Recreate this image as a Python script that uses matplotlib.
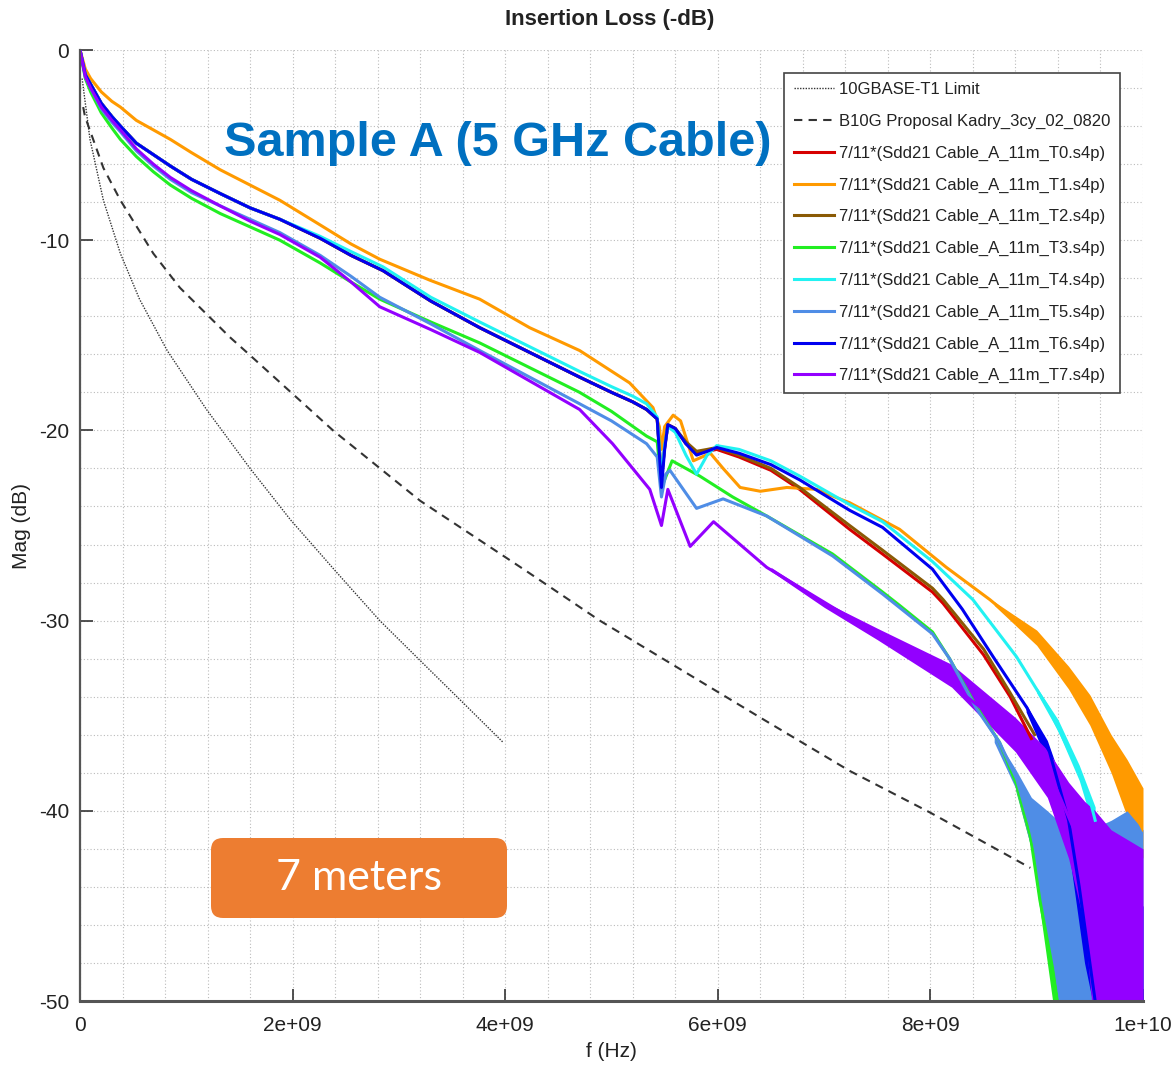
import matplotlib
matplotlib.use('Agg')
from matplotlib import pyplot as plt
from matplotlib import font_manager
from matplotlib.patches import FancyBboxPatch
from matplotlib.ticker import MultipleLocator
import numpy as np

plt.rcParams['axes.unicode_minus'] = False
installed = {f.name for f in font_manager.fontManager.ttflist}
NARROW = [n for n in ['Liberation Sans Narrow', 'Liberation Sans'] if n in installed] + ['DejaVu Sans']
IS_NARROW = NARROW[0] == 'Liberation Sans Narrow'

# Values: frequency in GHz, magnitude in dB
limit_f = [0.02, 0.094, 0.22, 0.38, 0.56, 0.82, 1.19, 1.60, 1.98, 2.42, 2.82, 3.2, 3.6, 3.98]
limit_db = [-1.5, -4.7, -7.9, -10.7, -13.1, -15.8, -18.9, -22.0, -24.7, -27.5, -30.0, -32.1, -34.3, -36.4]

prop_f = [0.03, 0.047, 0.22, 0.38, 0.69, 0.94, 1.41, 1.57, 2.38, 3.2, 4.2, 4.89, 6.4, 7.24, 8.0, 8.94]
prop_db = [-3.0, -3.5, -6.2, -7.9, -10.7, -12.5, -15.1, -15.9, -20.0, -23.7, -27.4, -30.0, -35.1, -37.9, -40.1, -43.0]

# T0 (red)
t0_f = [0, 0.05, 0.1, 0.2, 0.3, 0.38, 0.53, 0.69, 0.85, 1.05, 1.32, 1.6, 1.88, 2.26, 2.55, 2.85, 3.3, 3.76,
        4.23, 4.70, 5.0, 5.2, 5.33, 5.43, 5.47, 5.50, 5.53, 5.60, 5.70, 5.80, 5.90, 5.99, 6.2, 6.5, 6.77,
        7.24, 7.55, 8.02, 8.12, 8.5, 8.75, 8.95]
t0_db = [0, -1.3, -1.8, -2.8, -3.5, -4.0, -4.9, -5.5, -6.1, -6.8, -7.55, -8.3, -8.9, -9.9, -10.8, -11.6, -13.2, -14.6,
         -15.9, -17.2, -18.0, -18.5, -18.9, -19.4, -22.5, -20.9, -19.7, -19.9, -20.7, -21.2, -21.1, -21.0, -21.4, -22.1, -23.1,
         -25.2, -26.5, -28.5, -29.1, -31.8, -34.0, -36.2]

# T1 (orange)
t1_f = [0, 0.05, 0.1, 0.2, 0.3, 0.38, 0.53, 0.69, 0.85, 1.05, 1.32, 1.6, 1.88, 2.26, 2.55, 2.82, 3.29, 3.76,
        4.23, 4.70, 5.17, 5.39, 5.45, 5.47, 5.50, 5.58, 5.65, 5.77, 5.85, 5.93, 6.05, 6.21, 6.40, 6.65, 6.93,
        7.1, 7.24, 7.71, 8.15, 8.56, 9.12, 9.5, 9.76, 9.94, 10.0]
t1_db = [0, -1.0, -1.5, -2.2, -2.7, -3.0, -3.7, -4.2, -4.7, -5.4, -6.3, -7.1, -7.9, -9.2, -10.2, -11.0, -12.1, -13.1,
         -14.6, -15.8, -17.5, -18.8, -19.8, -21.0, -19.8, -19.2, -19.5, -21.6, -21.4, -21.2, -22.0, -23.0, -23.2, -23.0, -23.1,
         -23.5, -23.8, -25.2, -27.2, -28.9, -31.5, -34.7, -37.7, -40.3, -41.0]
t1_tail_f = [8.6, 9.0, 9.3, 9.5, 9.7, 9.85, 10.0]
t1_tail_hi = [-29.0, -30.5, -32.4, -33.9, -36.0, -37.3, -38.8]
t1_tail_lo = [-29.2, -31.3, -33.6, -35.5, -38.0, -40.3, -42.5]

# T2 (brown)
t2_f = [0, 0.05, 0.1, 0.2, 0.3, 0.38, 0.53, 0.69, 0.85, 1.05, 1.32, 1.6, 1.88, 2.26, 2.55, 2.85, 3.3, 3.76,
        4.23, 4.70, 5.0, 5.2, 5.33, 5.43, 5.47, 5.50, 5.53, 5.60, 5.70, 5.80, 5.90, 5.99, 6.2, 6.5, 6.77,
        7.24, 7.55, 8.02, 8.12, 8.5, 8.75, 8.98]
t2_db = [0, -1.3, -1.8, -2.8, -3.5, -4.0, -4.9, -5.5, -6.1, -6.8, -7.55, -8.3, -8.9, -9.9, -10.8, -11.6, -13.2, -14.6,
         -15.9, -17.2, -18.0, -18.5, -18.9, -19.4, -22.5, -20.9, -19.7, -19.9, -20.6, -21.1, -21.0, -20.9, -21.3, -22.0, -23.0,
         -25.0, -26.3, -28.3, -28.9, -31.5, -33.8, -36.0]

# T3 (green)
t3_f = [0, 0.05, 0.1, 0.2, 0.3, 0.38, 0.53, 0.69, 0.85, 1.05, 1.32, 1.6, 1.88, 2.26, 2.55, 2.82, 3.3, 3.76,
        4.23, 4.70, 5.0, 5.33, 5.43, 5.47, 5.50, 5.57, 5.83, 6.14, 6.30, 6.46, 7.08, 7.55, 7.71, 8.02, 8.18,
        8.43, 8.65, 8.81, 8.94, 9.03, 9.15, 9.25]
t3_db = [0, -1.5, -2.2, -3.3, -4.1, -4.7, -5.6, -6.4, -7.1, -7.8, -8.6, -9.3, -10.0, -11.2, -12.2, -13.1, -14.3, -15.4,
         -16.7, -18.0, -19.0, -20.3, -20.6, -23.0, -22.6, -21.6, -22.4, -23.5, -24.0, -24.5, -26.5, -28.5, -29.2, -30.6, -32.0,
         -34.5, -36.4, -38.6, -41.3, -44.7, -48.3, -52.0]
t3_tail_f = [8.8, 8.95, 9.05, 9.15, 9.25]
t3_tail_hi = [-38.3, -40.8, -43.5, -47.0, -50.0]
t3_tail_lo = [-38.9, -42.0, -46.0, -50.0, -52.0]

# T4 (cyan)
t4_f = [0, 0.05, 0.1, 0.2, 0.3, 0.38, 0.53, 0.69, 0.85, 1.05, 1.32, 1.6, 1.88, 2.26, 2.55, 2.85, 3.3, 3.76,
        4.23, 4.70, 5.0, 5.2, 5.33, 5.43, 5.47, 5.50, 5.53, 5.60, 5.70, 5.80, 5.90, 5.99, 6.2, 6.5, 6.77,
        7.24, 7.55, 8.02, 8.4, 8.81, 9.12, 9.38, 9.5, 9.55]
t4_db = [0, -1.3, -1.8, -2.8, -3.5, -4.0, -4.9, -5.5, -6.1, -6.8, -7.55, -8.3, -8.9, -9.8, -10.6, -11.4, -13.0, -14.3,
         -15.6, -16.9, -17.7, -18.2, -18.6, -19.3, -22.5, -20.8, -19.8, -20.1, -21.3, -22.3, -21.3, -20.8, -21.0, -21.6, -22.4,
         -23.9, -24.8, -26.9, -28.9, -31.9, -34.7, -37.7, -39.4, -40.5]
t4_tail_f = [9.0, 9.2, 9.4, 9.55]
t4_tail_hi = [-33.5, -35.2, -37.6, -39.8]
t4_tail_lo = [-33.8, -35.8, -38.4, -41.2]

# T5 (cornflower blue)
t5_f = [0, 0.05, 0.1, 0.2, 0.3, 0.38, 0.53, 0.69, 0.85, 1.05, 1.32, 1.6, 1.88, 2.26, 2.55, 2.82, 3.3, 3.76,
        4.23, 4.70, 5.0, 5.33, 5.43, 5.47, 5.51, 5.55, 5.80, 6.05, 6.46, 7.08, 7.55, 8.02, 8.18, 8.43, 8.65,
        8.81, 8.94, 9.05, 9.15, 9.25]
t5_db = [0, -1.4, -2.0, -3.1, -3.8, -4.3, -5.3, -6.1, -6.8, -7.5, -8.2, -8.9, -9.6, -10.8, -11.9, -13.0, -14.4, -15.8,
         -17.2, -18.6, -19.5, -20.7, -21.4, -23.5, -22.3, -22.1, -24.1, -23.6, -24.5, -26.6, -28.6, -30.7, -32.0, -34.6, -36.4,
         -38.3, -40.8, -43.5, -47.0, -51.0]
t5_tail_f = [8.6, 8.8, 8.95, 9.1, 9.2, 9.5, 9.7, 9.85, 10.0]
t5_tail_hi = [-36.0, -37.8, -39.3, -40.0, -40.5, -41.0, -40.5, -40.0, -41.0]
t5_tail_lo = [-36.4, -38.8, -42.0, -47.0, -50.5, -52.0, -52.0, -52.0, -52.0]

# T6 (blue)
t6_f = [0, 0.05, 0.1, 0.2, 0.3, 0.38, 0.53, 0.69, 0.85, 1.05, 1.32, 1.6, 1.88, 2.26, 2.55, 2.85, 3.3, 3.76,
        4.23, 4.70, 5.0, 5.2, 5.33, 5.43, 5.47, 5.50, 5.53, 5.60, 5.70, 5.80, 5.90, 5.99, 6.2, 6.5, 6.77,
        7.24, 7.55, 8.02, 8.3, 8.59, 8.91, 9.12, 9.3, 9.4, 9.5, 9.6, 10.0]
t6_db = [0, -1.3, -1.8, -2.8, -3.5, -4.0, -4.9, -5.5, -6.1, -6.8, -7.55, -8.3, -8.9, -9.9, -10.8, -11.6, -13.2, -14.6,
         -15.9, -17.2, -18.0, -18.5, -18.9, -19.4, -23.0, -21.0, -19.7, -19.9, -20.7, -21.3, -21.1, -20.9, -21.2, -21.8, -22.6,
         -24.2, -25.1, -27.3, -29.4, -31.9, -34.6, -36.9, -40.5, -44.0, -48.0, -52.0, -52.0]
t6_tail_f = [8.9, 9.1, 9.3, 9.45, 9.6, 9.8, 10.0]
t6_tail_hi = [-34.4, -36.3, -39.5, -42.0, -44.0, -45.0, -45.0]
t6_tail_lo = [-34.8, -37.4, -42.0, -48.0, -52.0, -52.0, -52.0]

# T7 (purple)
t7_f = [0, 0.05, 0.1, 0.2, 0.3, 0.38, 0.53, 0.69, 0.85, 1.05, 1.32, 1.6, 1.88, 2.26, 2.55, 2.82, 3.3, 3.76,
        4.23, 4.70, 5.01, 5.36, 5.47, 5.53, 5.74, 5.96, 6.46, 7.08, 7.71, 8.18, 8.34, 8.81, 9.12, 9.43,
        9.6, 9.8, 10.0]
t7_db = [0, -1.4, -2.0, -3.0, -3.7, -4.2, -5.2, -6.0, -6.7, -7.4, -8.2, -9.0, -9.7, -10.9, -12.2, -13.5, -14.7, -15.9,
         -17.4, -18.9, -20.7, -23.1, -25.0, -23.1, -26.1, -24.8, -27.2, -29.3, -31.4, -32.9, -34.0, -36.0, -38.0, -42.0,
         -45.0, -46.0, -46.5]
t7_tail_f = [6.5, 7.0, 7.5, 8.2, 8.8, 9.1, 9.3, 9.45, 9.55, 9.7, 9.85, 10.0]
t7_tail_hi = [-27.2, -29.0, -30.4, -32.3, -35.1, -36.8, -38.5, -39.5, -40.0, -41.0, -41.5, -42.0]
t7_tail_lo = [-27.4, -29.3, -31.0, -33.5, -36.9, -39.3, -42.5, -46.0, -52.0, -52.0, -52.0, -52.0]

labels = ['7/11*(Sdd21 Cable_A_11m_T%d.s4p)' % i for i in range(8)]
colors = ['#d60000', '#ff9a00', '#8a5a05', '#22ee22', '#22f2f2', '#4f8de6', '#0000f0', '#9300ff']
traces = [(t0_f, t0_db, None),
          (t1_f, t1_db, (t1_tail_f, t1_tail_lo, t1_tail_hi)),
          (t2_f, t2_db, None),
          (t3_f, t3_db, (t3_tail_f, t3_tail_lo, t3_tail_hi)),
          (t4_f, t4_db, (t4_tail_f, t4_tail_lo, t4_tail_hi)),
          (t5_f, t5_db, (t5_tail_f, t5_tail_lo, t5_tail_hi)),
          (t6_f, t6_db, (t6_tail_f, t6_tail_lo, t6_tail_hi)),
          (t7_f, t7_db, (t7_tail_f, t7_tail_lo, t7_tail_hi))]

xticks = [0, 2e9, 4e9, 6e9, 8e9, 1e10]
xtick_labels = ['0', '2e+09', '4e+09', '6e+09', '8e+09', '1e+10']
yticks = [0, -10, -20, -30, -40, -50]

# font sizes: the reference uses a condensed face
tick_fs = 17 if IS_NARROW else 15
leg_fs = 13 if IS_NARROW else 12
title_fs = 18 if IS_NARROW else 16

fig = plt.figure(figsize=(11.71, 10.71), dpi=100)
ax = fig.add_axes([80 / 1171, 1 - 1001 / 1071, 1063 / 1171, 951 / 1071])

ax.plot(np.array(limit_f) * 1e9, limit_db, color='#333333', lw=1.0, ls=(0, (1, 1)),
        label='10GBASE-T1 Limit')
ax.plot(np.array(prop_f) * 1e9, prop_db, color='#333333', lw=1.5, ls=(0, (4, 3)),
        label='B10G Proposal Kadry_3cy_02_0820')

for (f, db, tail), lab, c in zip(traces, labels, colors):
    ax.plot(np.array(f) * 1e9, db, color=c, lw=2.2, label=lab, solid_joinstyle='round')
    if tail is not None:
        tf, lo, hi = tail
        ax.fill_between(np.array(tf) * 1e9, lo, hi, color=c, lw=0)

ax.set_xlim(0, 1e10)
ax.set_ylim(-50, 0)
ax.set_xticks(xticks)
ax.set_xticklabels(xtick_labels)
ax.set_yticks(yticks)
ax.xaxis.set_minor_locator(MultipleLocator(0.4e9))
ax.yaxis.set_minor_locator(MultipleLocator(2))
ax.grid(which='both', color='#bbbbbb', ls=(0, (1, 2)), lw=0.8)
ax.set_axisbelow(True)
ax.tick_params(which='major', direction='in', length=9, width=1.2, color='#333333',
               labelsize=tick_fs, labelcolor='#222222', pad=8)
ax.tick_params(axis='x', pad=11)
ax.tick_params(which='minor', length=0)
for lab in ax.get_xticklabels() + ax.get_yticklabels():
    lab.set_family(NARROW)
for s in ['top', 'right']:
    ax.spines[s].set_visible(False)
ax.spines['left'].set_color('#555555')
ax.spines['left'].set_linewidth(1.6)
ax.spines['bottom'].set_color('#555555')
ax.spines['bottom'].set_linewidth(2.2)

ax.set_xlabel('f (Hz)', fontsize=tick_fs, family=NARROW, color='#222222')
ax.set_ylabel('Mag (dB)', fontsize=tick_fs, family=NARROW, color='#222222')
ax.xaxis.set_label_coords(0.5, -0.043)
ax.yaxis.set_label_coords(-0.046, 0.5)
fig.text(610 / 1171, 1 - 19 / 1071, 'Insertion Loss (-dB)', ha='center', va='center',
         fontsize=title_fs, weight='bold', family=NARROW, color='#222222')

leg = ax.legend(loc='upper right', bbox_to_anchor=(1120 / 1171, 1 - 73 / 1071),
                bbox_transform=fig.transFigure, borderaxespad=0, fancybox=False,
                framealpha=1, edgecolor='#444444', handlelength=2.45, handletextpad=0.3,
                labelspacing=1.0, borderpad=0.55, prop={'family': NARROW, 'size': leg_fs})
leg.get_frame().set_linewidth(1.2)
for t in leg.get_texts():
    t.set_color('#222222')

fig.text(498 / 1171, 1 - 156 / 1071, 'Sample A (5 GHz Cable)', ha='center', va='baseline',
         fontsize=35, weight='bold', family='Liberation Sans', color='#0070c0')

box = FancyBboxPatch((2.11, 1.53), 2.96, 0.80, boxstyle='round,pad=0,rounding_size=0.12',
                     transform=fig.dpi_scale_trans, facecolor='#ed7d31', edgecolor='none', zorder=5)
fig.patches.append(box)
fig.text(3.59, 1.93, '7 meters', transform=fig.dpi_scale_trans, ha='center', va='center',
         fontsize=31, family='Lato', color='white', zorder=6)

plt.savefig('out.png')
